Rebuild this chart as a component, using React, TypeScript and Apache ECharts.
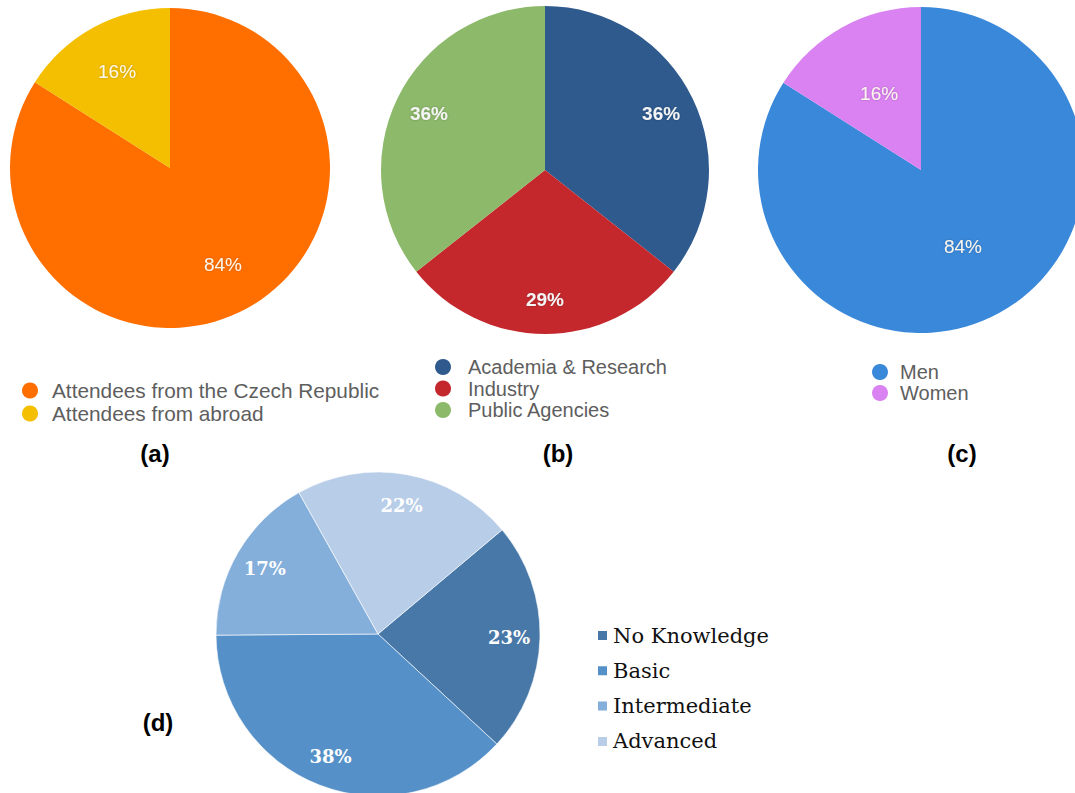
import React, { useEffect, useRef } from "react";
import * as echarts from "echarts";

// ---- data ----
const aNames = ["Attendees from the Czech Republic", "Attendees from abroad"];
const aValues = [84, 16];
const aColors = ["#ff6f00", "#f4bf00"];

const bNames = ["Academia & Research", "Industry", "Public Agencies"];
const bValues = [36, 29, 36];
const bColors = ["#2e5a8e", "#c4282d", "#8db96b"];

const cNames = ["Men", "Women"];
const cValues = [84, 16];
const cColors = ["#3a88da", "#da82f2"];

const dNames = ["No Knowledge", "Basic", "Intermediate", "Advanced"];
const dValues = [23, 38, 17, 22];
const dColors = ["#4878a8", "#5591c8", "#85afdb", "#b8cde7"];

const panelLabels = ["(a)", "(b)", "(c)", "(d)"];

function pieSeries(
  id: string,
  names: string[],
  values: number[],
  colors: string[],
  center: number[],
  r: number,
  labelR: number,
  startAngle: number,
  label: any,
  border: any
) {
  const data = names.map((n, i) => ({ name: n, value: values[i], itemStyle: { color: colors[i] } }));
  const main = {
    type: "pie",
    id: id + "-main",
    center,
    radius: [0, r],
    startAngle,
    clockwise: true,
    data,
    label: { show: false },
    labelLine: { show: false },
    itemStyle: border,
    emphasis: { disabled: true },
    silent: true,
  };
  const overlay = {
    type: "pie",
    id: id + "-labels",
    center,
    radius: [2 * labelR - r, r],
    startAngle,
    clockwise: true,
    avoidLabelOverlap: false,
    data: names.map((n, i) => ({ name: n, value: values[i] })),
    itemStyle: { color: "rgba(0,0,0,0)", borderWidth: 0 },
    label: { show: true, position: "inside", formatter: "{c}%", ...label },
    labelLine: { show: false },
    emphasis: { disabled: true },
    silent: true,
  };
  return [main, overlay];
}

const sansLabel = {
  fontFamily: "Liberation Sans, Arial, sans-serif",
  fontSize: 19,
  color: "#fbf6ec",
  textShadowColor: "rgba(0,0,0,0.25)",
  textShadowBlur: 2,
};

export default function App() {
  const ref = useRef<HTMLDivElement>(null);
  useEffect(() => {
    if (!ref.current) return;
    const chart = echarts.init(ref.current, null, { renderer: "svg" });
    const legendText = {
      fontFamily: "Liberation Sans, Arial, sans-serif",
      fontSize: 20,
      lineHeight: 20,
      color: "#5e5e5e",
    };
    chart.setOption({
      animation: false,
      backgroundColor: "#ffffff",
      legend: [
        {
          data: aNames,
          orient: "vertical",
          left: 17,
          top: 375,
          icon: "circle",
          itemWidth: 34,
          itemHeight: 16,
          itemGap: 2,
          textStyle: { ...legendText, fontSize: 20.8 },
          selectedMode: false,
        },
        {
          data: bNames,
          orient: "vertical",
          left: 430,
          top: 352,
          icon: "circle",
          itemWidth: 40,
          itemHeight: 16,
          itemGap: 1.5,
          textStyle: legendText,
          selectedMode: false,
        },
        {
          data: cNames,
          orient: "vertical",
          left: 867,
          top: 357,
          icon: "circle",
          itemWidth: 30,
          itemHeight: 16,
          itemGap: 1,
          textStyle: legendText,
          selectedMode: false,
        },
        {
          data: dNames,
          orient: "vertical",
          left: 591,
          top: 620,
          icon: "rect",
          itemWidth: 11,
          itemHeight: 11,
          itemGap: 14.3,
          textStyle: {
            fontFamily: "DejaVu Serif, serif",
            fontSize: 21,
            lineHeight: 20,
            color: "#111111",
          },
          selectedMode: false,
        },
      ],
      graphic: [
        { pos: [155, 453] },
        { pos: [558, 453] },
        { pos: [962, 453] },
        { pos: [158, 722] },
      ].map((p, i) => ({
        type: "text",
        x: p.pos[0],
        y: p.pos[1],
        style: {
          text: panelLabels[i],
          font: "bold 24px Liberation Sans, Arial, sans-serif",
          fill: "#000",
          textAlign: "center",
          textVerticalAlign: "middle",
        },
      })),
      series: [
        ...pieSeries("a", aNames, aValues, aColors, [170, 168], 160, 107, 90, sansLabel, { borderWidth: 0 }),
        ...pieSeries("b", bNames, bValues, bColors, [545, 170], 164, 126, 90, { ...sansLabel, fontWeight: "bold", color: "#f4f4f4" }, { borderWidth: 0 }),
        ...pieSeries("c", cNames, cValues, cColors, [921, 170], 163, 84, 90, sansLabel, { borderWidth: 0 }),
        ...pieSeries(
          "d",
          dNames,
          dValues,
          dColors,
          [378, 634],
          162,
          128,
          40,
          { fontFamily: "DejaVu Serif, serif", fontSize: 18, fontWeight: "bold", color: "#ffffff" },
          { borderColor: "#ffffff", borderWidth: 0.6 }
        ),
      ],
    });
    return () => chart.dispose();
  }, []);
  return (
    <div
      ref={ref}
      style={{ position: "absolute", left: 0, top: 0, width: 1075, height: 793 }}
    />
  );
}
